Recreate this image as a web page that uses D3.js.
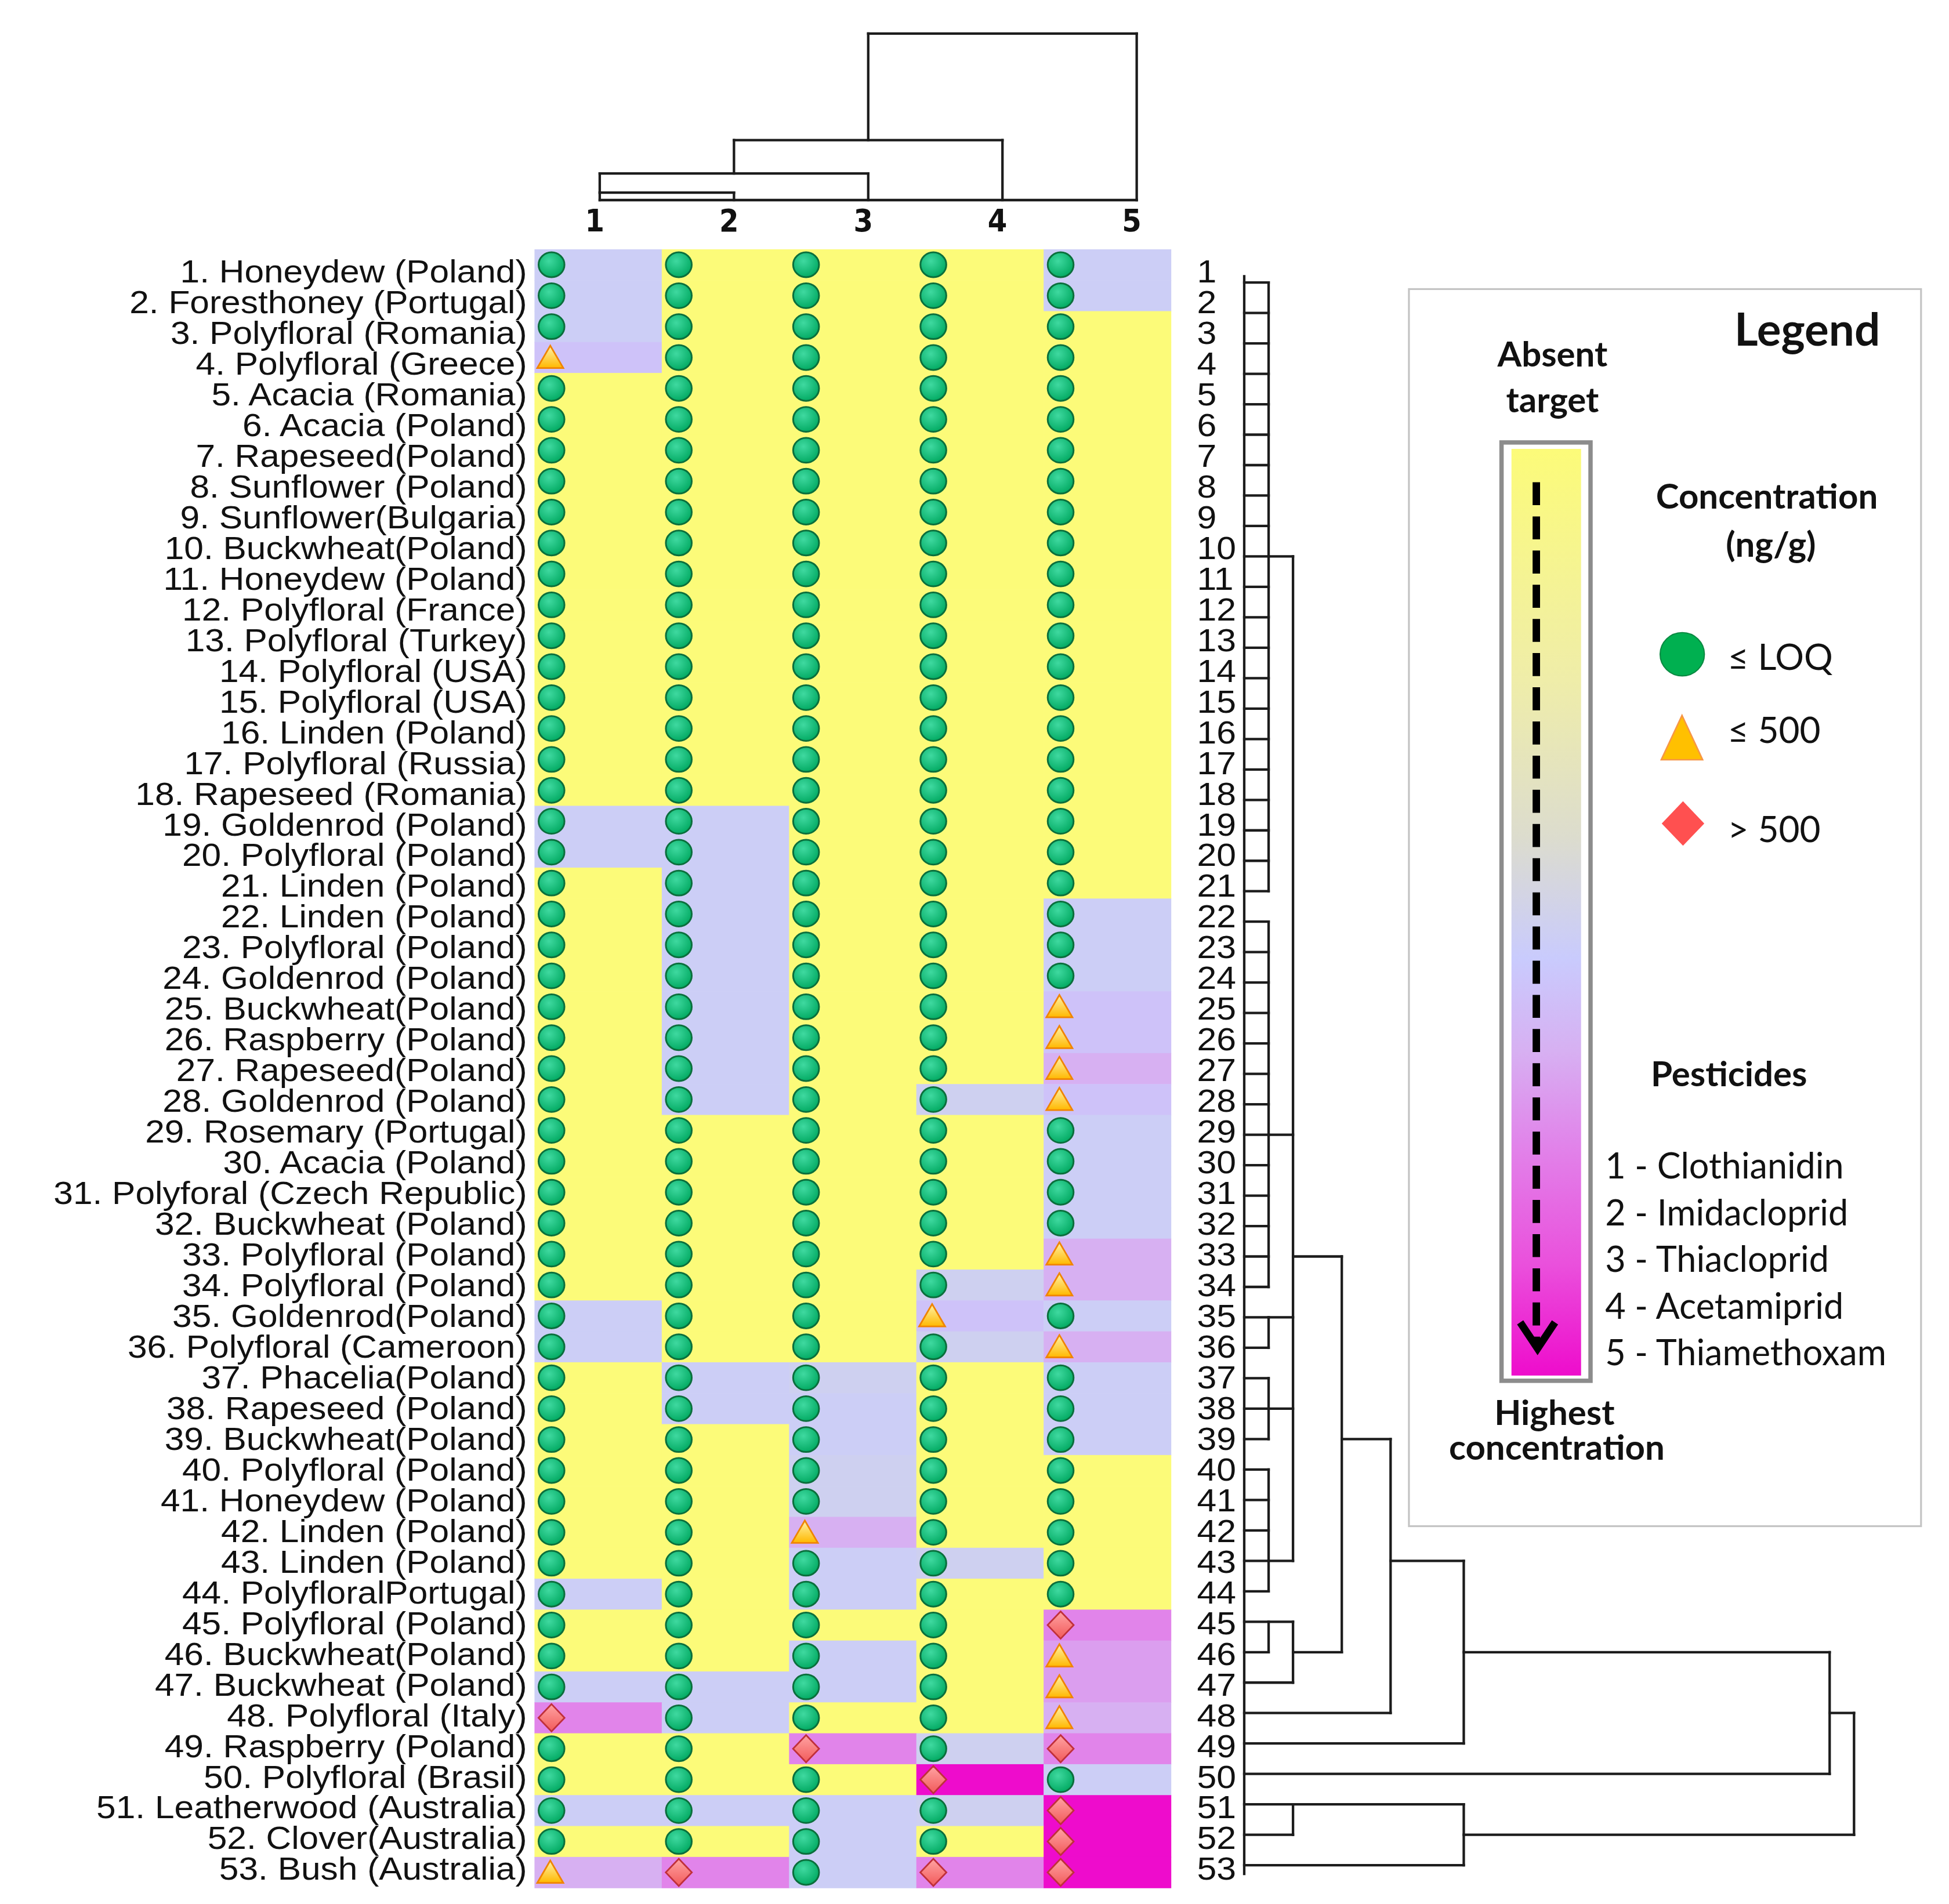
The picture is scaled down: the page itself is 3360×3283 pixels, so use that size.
<!DOCTYPE html>
<html>
<head>
<meta charset="utf-8">
<script src="https://cdn.jsdelivr.net/npm/d3@7"></script>
<style>
  body { margin: 0; background: #fff; }
  svg { display: block; }
</style>
</head>
<body>
<div id="wrapper"></div>
<script>
// 1. Data
const samples = [
  "Honeydew (Poland)", "Foresthoney (Portugal)", "Polyfloral (Romania)", "Polyfloral (Greece)",
  "Acacia (Romania)", "Acacia (Poland)", "Rapeseed(Poland)", "Sunflower (Poland)",
  "Sunflower(Bulgaria)", "Buckwheat(Poland)", "Honeydew (Poland)", "Polyfloral (France)",
  "Polyfloral (Turkey)", "Polyfloral (USA)", "Polyfloral (USA)", "Linden (Poland)",
  "Polyfloral (Russia)", "Rapeseed (Romania)", "Goldenrod (Poland)", "Polyfloral (Poland)",
  "Linden (Poland)", "Linden (Poland)", "Polyfloral (Poland)", "Goldenrod (Poland)",
  "Buckwheat(Poland)", "Raspberry (Poland)", "Rapeseed(Poland)", "Goldenrod (Poland)",
  "Rosemary (Portugal)", "Acacia (Poland)", "Polyforal (Czech Republic)", "Buckwheat (Poland)",
  "Polyfloral (Poland)", "Polyfloral (Poland)", "Goldenrod(Poland)", "Polyfloral (Cameroon)",
  "Phacelia(Poland)", "Rapeseed (Poland)", "Buckwheat(Poland)", "Polyfloral (Poland)",
  "Honeydew (Poland)", "Linden (Poland)", "Linden (Poland)", "PolyfloralPortugal)",
  "Polyfloral (Poland)", "Buckwheat(Poland)", "Buckwheat (Poland)", "Polyfloral (Italy)",
  "Raspberry (Poland)", "Polyfloral (Brasil)", "Leatherwood (Australia)", "Clover(Australia)",
  "Bush (Australia)"
]
const pesticides = ["Clothianidin", "Imidacloprid", "Thiacloprid", "Acetamiprid", "Thiamethoxam"]

// relative concentration, read as a position on the legend colour bar (0 = absent, 1 = highest)
const Y = 0, G = 0.515, L = 0.53, P = 0.585, Q = 0.65, R = 0.69, K = 0.75, M = 1
const levels = [
  [L,Y,Y,Y,L],[L,Y,Y,Y,L],[L,Y,Y,Y,Y],[P,Y,Y,Y,Y],[Y,Y,Y,Y,Y],
  [Y,Y,Y,Y,Y],[Y,Y,Y,Y,Y],[Y,Y,Y,Y,Y],[Y,Y,Y,Y,Y],[Y,Y,Y,Y,Y],
  [Y,Y,Y,Y,Y],[Y,Y,Y,Y,Y],[Y,Y,Y,Y,Y],[Y,Y,Y,Y,Y],[Y,Y,Y,Y,Y],
  [Y,Y,Y,Y,Y],[Y,Y,Y,Y,Y],[Y,Y,Y,Y,Y],[L,L,Y,Y,Y],[L,L,Y,Y,Y],
  [Y,L,Y,Y,Y],[Y,L,Y,Y,L],[Y,L,Y,Y,L],[Y,L,Y,Y,L],[Y,L,Y,Y,P],
  [Y,L,Y,Y,P],[Y,L,Y,Y,Q],[Y,L,Y,G,P],[Y,Y,Y,Y,L],[Y,Y,Y,Y,L],
  [Y,Y,Y,Y,L],[Y,Y,Y,Y,L],[Y,Y,Y,Y,Q],[Y,Y,Y,G,Q],[L,Y,Y,P,L],
  [L,Y,Y,G,Q],[Y,L,G,Y,L],[Y,L,L,Y,L],[Y,Y,L,Y,L],[Y,Y,G,Y,Y],
  [Y,Y,G,Y,Y],[Y,Y,Q,Y,Y],[Y,Y,L,G,Y],[L,Y,L,Y,Y],[Y,Y,Y,Y,K],
  [Y,Y,L,Y,R],[L,L,L,Y,R],[K,L,Y,Y,Q],[Y,Y,K,G,K],[Y,Y,Y,M,L],
  [L,L,L,G,M],[Y,Y,L,Y,M],[Q,K,L,K,M]
]
// 0: <= LOQ, 1: <= 500, 2: > 500
const classes = [
  [0,0,0,0,0],[0,0,0,0,0],[0,0,0,0,0],[1,0,0,0,0],[0,0,0,0,0],
  [0,0,0,0,0],[0,0,0,0,0],[0,0,0,0,0],[0,0,0,0,0],[0,0,0,0,0],
  [0,0,0,0,0],[0,0,0,0,0],[0,0,0,0,0],[0,0,0,0,0],[0,0,0,0,0],
  [0,0,0,0,0],[0,0,0,0,0],[0,0,0,0,0],[0,0,0,0,0],[0,0,0,0,0],
  [0,0,0,0,0],[0,0,0,0,0],[0,0,0,0,0],[0,0,0,0,0],[0,0,0,0,1],
  [0,0,0,0,1],[0,0,0,0,1],[0,0,0,0,1],[0,0,0,0,0],[0,0,0,0,0],
  [0,0,0,0,0],[0,0,0,0,0],[0,0,0,0,1],[0,0,0,0,1],[0,0,0,1,0],
  [0,0,0,0,1],[0,0,0,0,0],[0,0,0,0,0],[0,0,0,0,0],[0,0,0,0,0],
  [0,0,0,0,0],[0,0,1,0,0],[0,0,0,0,0],[0,0,0,0,0],[0,0,0,0,2],
  [0,0,0,0,1],[0,0,0,0,1],[2,0,0,0,1],[0,0,2,0,2],[0,0,0,2,0],
  [0,0,0,0,2],[0,0,0,0,2],[1,2,0,2,2]
]
const classLabels = ["\u2264 LOQ", "\u2264 500", "> 500"]

// colour bar stops (top = absent target, bottom = highest concentration)
const gradStops  = [0, 0.25, 0.42, 0.55, 0.65, 0.75, 0.88, 1]
const gradColors = ["#fcfb79", "#efeda9", "#dcdcce", "#c9cbfd", "#d7b0f2", "#e184ea", "#ea50dc", "#ee0ccc"]

// dendrogram merges: linkage height, merged clusters (named by their stem leaf), new stem
const colMerges = [
  {h: 0.45, members: [1, 2], stem: 1},
  {h: 1.6,  members: [1, 3], stem: 2},
  {h: 3.6,  members: [2, 4], stem: 3},
  {h: 10,   members: [3, 5], stem: null}
]
const rowMerges = [
  {h: 0.2, members: [1,2,3,4,5,6,7,8,9,10,11,12,13,14,15,16,17,18,19,20,21], stem: 10},
  {h: 0.2, members: [22,23,24,25,26,27,28,29,30,31,32,33,34], stem: 29},
  {h: 0.2, members: [35,36], stem: 35},
  {h: 0.2, members: [37,38,39], stem: 38},
  {h: 0.2, members: [40,41,42,43,44], stem: 43},
  {h: 0.2, members: [45,46], stem: 45},
  {h: 0.4, members: [10,29,35,38,43], stem: 33},
  {h: 0.4, members: [45,47], stem: 46},
  {h: 0.4, members: [51,52], stem: 51},
  {h: 0.8, members: [33,46], stem: 39},
  {h: 1.2, members: [39,48], stem: 43},
  {h: 1.8, members: [43,49], stem: 46},
  {h: 1.8, members: [51,53], stem: 52},
  {h: 4.8, members: [46,50], stem: 48},
  {h: 5.0, members: [48,52], stem: null}
]

const rows = d3.range(1, samples.length + 1)
const cols = d3.range(1, pesticides.length + 1)

// 2. Dimensions (drawn in a 1568-wide frame, scaled up to the window)
const dimensions = {width: 3360, height: 3283, vbWidth: 1568, vbHeight: 1532}

// 3. Canvas
const wrapper = d3.select('#wrapper')
  .append('svg')
    .attr('width', dimensions.width)
    .attr('height', dimensions.height)
    .attr('viewBox', `0 0 ${dimensions.vbWidth} ${dimensions.vbHeight}`)
    .attr('preserveAspectRatio', 'none')

const defs = wrapper.append('defs')
const bar = defs.append('linearGradient').attr('id', 'barGrad')
  .attr('x1', 0).attr('y1', 0).attr('x2', 0).attr('y2', 1)
bar.selectAll('stop').data(gradStops).enter().append('stop')
  .attr('offset', d => d)
  .attr('stop-color', (d, i) => gradColors[i])

const green = defs.append('radialGradient').attr('id', 'greenGrad')
  .attr('cx', 0.4).attr('cy', 0.35).attr('r', 0.7)
green.append('stop').attr('offset', 0).attr('stop-color', '#3fd9a0')
green.append('stop').attr('offset', 1).attr('stop-color', '#00a860')
const tri = defs.append('linearGradient').attr('id', 'triGrad')
  .attr('x1', 0).attr('y1', 0).attr('x2', 0).attr('y2', 1)
tri.append('stop').attr('offset', 0).attr('stop-color', '#fff3a8')
tri.append('stop').attr('offset', 1).attr('stop-color', '#ffb800')
const dia = defs.append('linearGradient').attr('id', 'diaGrad')
  .attr('x1', 0).attr('y1', 0).attr('x2', 0).attr('y2', 1)
dia.append('stop').attr('offset', 0).attr('stop-color', '#ffa3a3')
dia.append('stop').attr('offset', 1).attr('stop-color', '#f25a5a')

// Scales
const xCell = d3.scaleBand().domain(cols).range([430, 942])
const yCell = d3.scaleBand().domain(rows).range([200.6, 1519])
const yLabel = d3.scalePoint().domain(rows).range([227.3, 1512.6])
const yRung = d3.scalePoint().domain(rows).range([227.3, 1500.8])
const xRowHeight = d3.scaleLinear().domain([0, 5]).range([1001, 1491.6])
const xLeaf = d3.scalePoint().domain(cols).range([482.5, 914.5])
const yColHeight = d3.scaleLinear().domain([0, 10]).range([161, 27])
const colorScale = d3.scaleLinear().domain(gradStops).range(gradColors)

// stretch text horizontally (the source font is a little wider than Arial)
function stretch(sel, k) {
  sel.each(function() {
    const w = this.getComputedTextLength()
    d3.select(this).attr('textLength', w * k).attr('lengthAdjust', 'spacingAndGlyphs')
  })
}

// 4. Heatmap cells
const cells = []
rows.forEach((r, i) => cols.forEach((c, j) => {
  cells.push({row: r, col: c, level: levels[i][j], cls: classes[i][j]})
}))

const heat = wrapper.append('g')
heat.selectAll('rect')
  .data(cells)
  .enter().append('rect')
    .attr('x', d => xCell(d.col))
    .attr('y', d => yCell(d.row))
    .attr('width', xCell.bandwidth() + 0.3)
    .attr('height', yCell.bandwidth() + 0.3)
    .attr('fill', d => colorScale(d.level))

const markerX = d => xCell(d.col) + 13.7
const markerY = d => yCell(d.row) + yCell.bandwidth() / 2

function markerPath(cls, cx, cy, s) {
  if (cls === 1) {
    return `M${cx - 10.5 * s},${cy + 8.5 * s} L${cx + 10.5 * s},${cy + 8.5 * s} L${cx},${cy - 9.5 * s} Z`
  }
  return `M${cx},${cy - 11 * s} L${cx + 10.5 * s},${cy} L${cx},${cy + 11 * s} L${cx - 10.5 * s},${cy} Z`
}

heat.selectAll('.dot')
  .data(cells.filter(d => d.cls === 0))
  .enter().append('ellipse')
    .attr('class', 'dot')
    .attr('cx', markerX)
    .attr('cy', markerY)
    .attr('rx', 10.4)
    .attr('ry', 10)
    .attr('fill', 'url(#greenGrad)')
    .attr('stroke', '#0b6f3c')
    .attr('stroke-width', 1.4)

heat.selectAll('.sym')
  .data(cells.filter(d => d.cls > 0))
  .enter().append('path')
    .attr('class', 'sym')
    .attr('d', d => markerPath(d.cls, markerX(d) - (d.cls === 1 ? 1 : 0), markerY(d), 1))
    .attr('fill', d => d.cls === 1 ? 'url(#triGrad)' : 'url(#diaGrad)')
    .attr('stroke', d => d.cls === 1 ? '#f08400' : '#c0303a')
    .attr('stroke-width', 1.3)

// 5. Peripherals: labels
const leftLabels = wrapper.append('g')
  .selectAll('text')
  .data(rows)
  .enter().append('text')
    .attr('x', 424)
    .attr('y', d => yLabel(d))
    .attr('text-anchor', 'end')
    .style('font-family', '"Liberation Sans", Arial, sans-serif')
    .style('font-size', '26px')
    .attr('fill', '#111')
    .text(d => `${d}. ${samples[d - 1]}`)
stretch(leftLabels, 1.085)

const rightLabels = wrapper.append('g')
  .selectAll('text')
  .data(rows)
  .enter().append('text')
    .attr('x', 963)
    .attr('y', d => yLabel(d))
    .style('font-family', '"Liberation Sans", Arial, sans-serif')
    .style('font-size', '26px')
    .attr('fill', '#111')
    .text(d => d)
stretch(rightLabels, 1.09)

wrapper.append('g')
  .selectAll('text')
  .data(cols)
  .enter().append('text')
    .attr('x', d => xLeaf(d) - 4)
    .attr('y', 186)
    .attr('text-anchor', 'middle')
    .style('font-family', '"Liberation Sans Narrow", "DejaVu Sans Condensed", sans-serif')
    .style('font-stretch', 'condensed')
    .style('font-weight', 'bold')
    .style('font-size', '25px')
    .attr('fill', '#111')
    .text(d => d)

// Dendrograms
function treeSegments(merges, leaves, pos, height, vertical) {
  const current = new Map(leaves.map(d => [d, 0]))
  const segs = []
  merges.forEach(m => {
    m.members.forEach(k => {
      const a = pos(k), h0 = height(current.get(k)), h1 = height(m.h)
      segs.push(vertical ? [a, h0, a, h1] : [h0, a, h1, a])
      current.delete(k)
    })
    const ps = m.members.map(pos)
    const hh = height(m.h)
    segs.push(vertical ? [d3.min(ps), hh, d3.max(ps), hh] : [hh, d3.min(ps), hh, d3.max(ps)])
    if (m.stem !== null) current.set(m.stem, m.h)
  })
  return segs
}

const colSegs = treeSegments(colMerges, cols, xLeaf, yColHeight, true)
colSegs.push([xLeaf(1), yColHeight(0), xLeaf(5), yColHeight(0)])
const rowSegs = treeSegments(rowMerges, rows, yRung, xRowHeight, false)
rowSegs.push([xRowHeight(0), yRung(1) - 5, xRowHeight(0), yRung(53) + 7])

wrapper.append('g')
  .selectAll('line')
  .data(colSegs.concat(rowSegs))
  .enter().append('line')
    .attr('x1', d => d[0]).attr('y1', d => d[1])
    .attr('x2', d => d[2]).attr('y2', d => d[3])
    .attr('stroke', '#1c1c1c')
    .attr('stroke-width', 2)
    .attr('stroke-linecap', 'square')

// Legend
const legend = wrapper.append('g')
  .style('font-family', 'Lato, "Open Sans", sans-serif')
  .attr('fill', '#111')

legend.append('rect')
  .attr('x', 1133.5).attr('y', 232.6)
  .attr('width', 412).attr('height', 995.4)
  .attr('fill', 'none')
  .attr('stroke', '#c4c4c4')
  .attr('stroke-width', 1.5)

const boldText = (txt, x, y, size, anchor) => legend.append('text')
  .attr('x', x).attr('y', y)
  .attr('text-anchor', anchor || 'middle')
  .style('font-weight', 'bold')
  .style('font-size', size + 'px')
  .text(txt)

boldText('Legend', 1454, 278, 36.5)
boldText('Absent', 1249, 295, 28)
boldText('target', 1249, 332, 28)
boldText('Concentration', 1421.5, 409.4, 28)
boldText('(ng/g)', 1424.7, 448, 28)
boldText('Pesticides', 1391, 874, 28)
boldText('Highest', 1250.6, 1146.6, 28)
boldText('concentration', 1252.5, 1174.5, 28)

// colour bar
legend.append('rect')
  .attr('x', 1208).attr('y', 356)
  .attr('width', 71.6).attr('height', 755)
  .attr('fill', '#fff')
  .attr('stroke', '#8c8c8c')
  .attr('stroke-width', 3.5)
legend.append('rect')
  .attr('x', 1216).attr('y', 361.2)
  .attr('width', 56).attr('height', 745.6)
  .attr('fill', 'url(#barGrad)')
legend.append('line')
  .attr('x1', 1236).attr('y1', 388)
  .attr('x2', 1236).attr('y2', 1080)
  .attr('stroke', '#000')
  .attr('stroke-width', 6)
  .attr('stroke-dasharray', '18.5 9')
legend.append('polyline')
  .attr('points', '1223,1064 1237,1085 1251,1064')
  .attr('fill', 'none')
  .attr('stroke', '#000')
  .attr('stroke-width', 6)

// symbol keys
const keyY = [526.4, 596, 662.6]
const keyBase = [539, 598, 677.4]
legend.append('ellipse')
  .attr('cx', 1353.4).attr('cy', keyY[0])
  .attr('rx', 17.8).attr('ry', 17.4)
  .attr('fill', '#00b050')
  .attr('stroke', '#0a8a42')
  .attr('stroke-width', 1)
legend.append('path')
  .attr('d', `M1336.5,${keyY[1] + 15.3} L1369.8,${keyY[1] + 15.3} L1353.2,${keyY[1] - 20.4} Z`)
  .attr('fill', '#ffc000')
  .attr('stroke', '#f79646')
  .attr('stroke-width', 1.2)
legend.append('path')
  .attr('d', markerPath(2, 1354, keyY[2], 1.63))
  .attr('fill', '#ff5050')
legend.selectAll('.key')
  .data(classLabels)
  .enter().append('text')
    .attr('class', 'key')
    .attr('x', 1390)
    .attr('y', (d, i) => keyBase[i])
    .style('font-size', '29px')
    .text(d => d)

// pesticide list
const yPest = d3.scalePoint().domain(cols).range([948.3, 1098.6])
legend.selectAll('.pest')
  .data(cols)
  .enter().append('text')
    .attr('class', 'pest')
    .attr('x', 1291.4)
    .attr('y', d => yPest(d))
    .style('font-size', '28.5px')
    .text(d => `${d} - ${pesticides[d - 1]}`)
</script>
</body>
</html>
